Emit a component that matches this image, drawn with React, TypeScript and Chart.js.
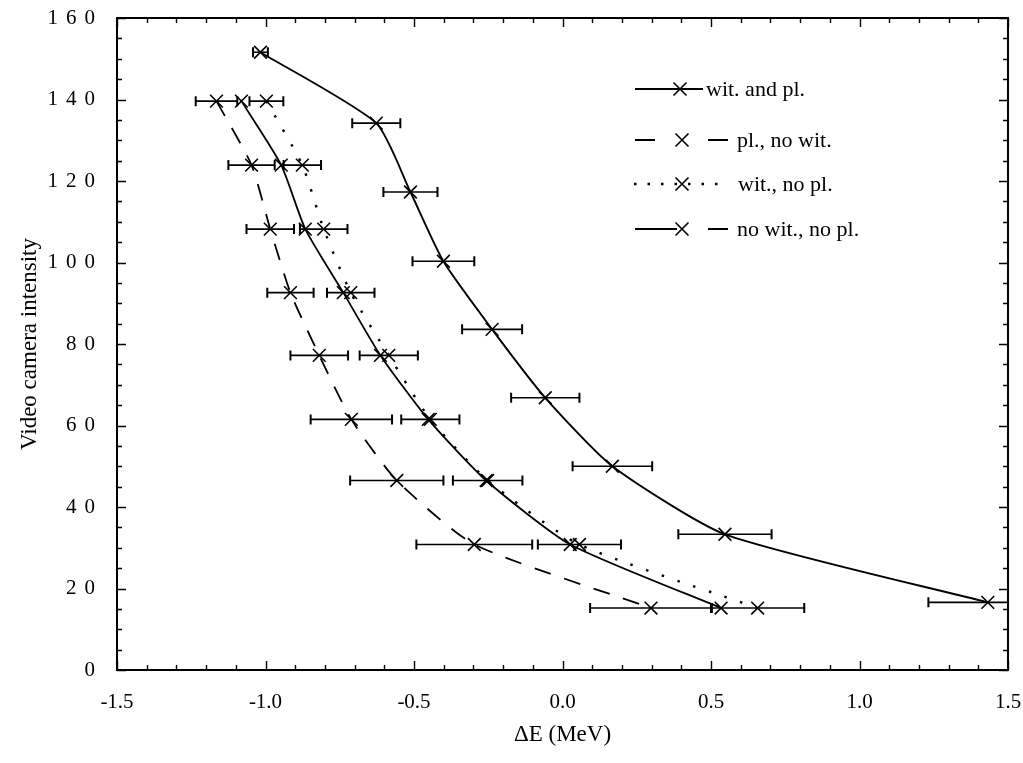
import React, { useEffect, useRef } from 'react';
import { Chart, registerables } from 'chart.js';

Chart.register(...registerables);

// ---- data ----
const seriesLabels = ['wit. and pl.', 'pl., no wit.', 'wit., no pl.', 'no wit., no pl.'];

const intensityA = [151.6, 134.2, 117.3, 100.3, 83.6, 66.8, 50.0, 33.3, 16.6];
const deltaEA = [-1.017, -0.627, -0.512, -0.401, -0.237, -0.058, 0.168, 0.547, 1.432];
const errA = [0.025, 0.081, 0.091, 0.104, 0.101, 0.115, 0.134, 0.157, 0.2];

const intensityBCD = [139.6, 123.9, 108.2, 92.6, 77.2, 61.5, 46.5, 30.8, 15.2];
const deltaEB = [-1.165, -1.047, -0.984, -0.916, -0.819, -0.711, -0.558, -0.297, 0.298];
const errB = [0.07, 0.078, 0.08, 0.078, 0.097, 0.137, 0.157, 0.195, 0.205];
const deltaEC = [-0.997, -0.876, -0.804, -0.713, -0.585, -0.445, -0.252, 0.057, 0.657];
const errC = [0.057, 0.063, 0.08, 0.08, 0.098, 0.098, 0.117, 0.14, 0.157];
const deltaED = [-1.081, -0.947, -0.866, -0.738, -0.613, -0.452, -0.257, 0.026, 0.534];

const xTickLabels = ['-1.5', '-1.0', '-0.5', '0.0', '0.5', '1.0', '1.5'];
const yTickLabels = ['0', '20', '40', '60', '80', '100', '120', '140', '160'];

const X_MIN = -1.5, X_MAX = 1.5, Y_MIN = 0, Y_MAX = 160;

const FONT = '"Liberation Serif", "Times New Roman", serif';

const toPoints = (xs: number[], ys: number[]) => xs.map((x, i) => ({ x, y: ys[i] }));

// ---- plugins ----
const frameTicks = {
  id: 'frameTicks',
  afterDraw(chart: any) {
    const { ctx, chartArea: a, scales } = chart;
    const x = scales.x, y = scales.y;
    ctx.save();
    ctx.strokeStyle = '#000';
    ctx.lineWidth = 1.4;
    ctx.beginPath();
    for (let i = 0; i <= 30; i++) {
      const v = X_MIN + i * 0.1;
      const px = Math.round(x.getPixelForValue(v)) + 0.5;
      const len = i % 5 === 0 ? 9 : 5;
      ctx.moveTo(px, a.bottom); ctx.lineTo(px, a.bottom - len);
      ctx.moveTo(px, a.top); ctx.lineTo(px, a.top + len);
    }
    for (let i = 0; i <= 32; i++) {
      const v = Y_MIN + i * 5;
      const py = Math.round(y.getPixelForValue(v)) + 0.5;
      const len = i % 4 === 0 ? 9 : 5;
      ctx.moveTo(a.left, py); ctx.lineTo(a.left + len, py);
      ctx.moveTo(a.right, py); ctx.lineTo(a.right - len, py);
    }
    ctx.stroke();
    ctx.lineWidth = 2;
    ctx.strokeRect(a.left, a.top, a.right - a.left, a.bottom - a.top);
    ctx.restore();
  },
};

const errorBars = {
  id: 'errorBars',
  afterDatasetsDraw(chart: any) {
    const { ctx, chartArea: a, scales } = chart;
    const x = scales.x, y = scales.y;
    ctx.save();
    ctx.beginPath();
    ctx.rect(a.left, a.top, a.right - a.left, a.bottom - a.top);
    ctx.clip();
    ctx.strokeStyle = '#000';
    chart.data.datasets.forEach((ds: any) => {
      if (!ds.xErr) return;
      ds.data.forEach((p: any, i: number) => {
        const e = ds.xErr[i];
        const x1 = x.getPixelForValue(p.x - e);
        const x2 = x.getPixelForValue(p.x + e);
        const py = y.getPixelForValue(p.y);
        ctx.lineWidth = 1.6;
        ctx.beginPath();
        ctx.moveTo(x1, py); ctx.lineTo(x2, py);
        ctx.stroke();
        ctx.lineWidth = 2;
        ctx.beginPath();
        ctx.moveTo(x1, py - 5); ctx.lineTo(x1, py + 5);
        ctx.moveTo(x2, py - 5); ctx.lineTo(x2, py + 5);
        ctx.stroke();
      });
    });
    ctx.restore();
  },
};

const legendRows = [
  { y: 89, segs: [[635, 703]], dash: [] as number[], cross: 680, text: 706, w: 1.8 },
  { y: 140, segs: [[635, 655], [708, 728]], dash: [] as number[], cross: 682, text: 737, w: 1.8 },
  { y: 184, segs: [[634, 728]], dash: [2.5, 11], cross: 682, text: 738, w: 2.4 },
  { y: 229, segs: [[635, 677], [708, 728]], dash: [] as number[], cross: 682, text: 737, w: 1.8 },
];

const insideLegend = {
  id: 'insideLegend',
  afterDraw(chart: any) {
    const { ctx } = chart;
    ctx.save();
    ctx.strokeStyle = '#000';
    ctx.fillStyle = '#000';
    ctx.font = `22px ${FONT}`;
    ctx.textBaseline = 'middle';
    ctx.textAlign = 'left';
    chart.data.datasets.forEach((ds: any, i: number) => {
      const r = legendRows[i];
      if (!r) return;
      ctx.lineWidth = r.w;
      ctx.setLineDash(r.dash);
      ctx.beginPath();
      r.segs.forEach(([s, e]) => { ctx.moveTo(s, r.y); ctx.lineTo(e, r.y); });
      ctx.stroke();
      ctx.setLineDash([]);
      ctx.lineWidth = 1.6;
      ctx.beginPath();
      ctx.moveTo(r.cross - 6.5, r.y - 6.5); ctx.lineTo(r.cross + 6.5, r.y + 6.5);
      ctx.moveTo(r.cross + 6.5, r.y - 6.5); ctx.lineTo(r.cross - 6.5, r.y + 6.5);
      ctx.stroke();
      ctx.fillText(ds.label, r.text, r.y + 1);
    });
    ctx.restore();
  },
};

const spacedYLabels = {
  id: 'spacedYLabels',
  beforeDraw(chart: any) {
    const s: any = chart.scales.y;
    if (!s || s.__spaced) return;
    const orig = s.drawLabels.bind(s);
    s.drawLabels = (area: any) => {
      const c: any = chart.ctx;
      c.save();
      c.letterSpacing = '8px';
      orig(area);
      c.restore();
    };
    s.__spaced = true;
  },
};

export default function App() {
  const ref = useRef<HTMLCanvasElement>(null);

  useEffect(() => {
    if (!ref.current) return;
    const common = {
      showLine: true,
      borderColor: '#000',
      backgroundColor: '#000',
      pointStyle: 'crossRot',
      pointRadius: 9,
      pointBorderWidth: 1.6,
      pointBorderColor: '#000',
      tension: 0.2,
      fill: false,
    };
    const chart = new Chart(ref.current, {
      type: 'scatter',
      data: {
        datasets: [
          { ...common, label: seriesLabels[0], data: toPoints(deltaEA, intensityA), xErr: errA, borderWidth: 1.9 } as any,
          { ...common, label: seriesLabels[1], data: toPoints(deltaEB, intensityBCD), xErr: errB, borderWidth: 1.8, borderDash: [17, 14] } as any,
          { ...common, label: seriesLabels[2], data: toPoints(deltaEC, intensityBCD), xErr: errC, borderWidth: 2.4, borderDash: [2.5, 14] } as any,
          { ...common, label: seriesLabels[3], data: toPoints(deltaED, intensityBCD), borderWidth: 1.8 } as any,
        ],
      },
      options: {
        animation: false,
        responsive: true,
        maintainAspectRatio: false,
        layout: { padding: { top: 18, right: 15, left: 0, bottom: 0 } },
        plugins: { legend: { display: false }, tooltip: { enabled: false } },
        scales: {
          x: {
            type: 'linear',
            min: X_MIN,
            max: X_MAX,
            grid: { display: false },
            border: { display: false },
            ticks: {
              stepSize: 0.5,
              color: '#000',
              font: { family: FONT, size: 21 },
              padding: 12,
              maxRotation: 0,
              autoSkip: false,
              callback: (_v: any, i: number) => xTickLabels[i],
            },
            title: {
              display: true,
              text: 'ΔE (MeV)',
              color: '#000',
              font: { family: FONT, size: 23 },
              padding: { top: 0, bottom: 14 },
            },
            afterFit: (s: any) => { s.height = 93; s.paddingLeft = 0; s.paddingRight = 0; },
          },
          y: {
            type: 'linear',
            min: Y_MIN,
            max: Y_MAX,
            grid: { display: false },
            border: { display: false },
            ticks: {
              stepSize: 20,
              color: '#000',
              font: { family: FONT, size: 21 },
              padding: 6,
              autoSkip: false,
              callback: (_v: any, i: number) => yTickLabels[i],
            },
            title: {
              display: true,
              text: 'Video camera intensity',
              color: '#000',
              font: { family: FONT, size: 23 },
              padding: { top: 16, bottom: 0 },
            },
            afterFit: (s: any) => { s.width = 117; s.paddingTop = 0; s.paddingBottom = 0; },
          },
        },
      },
      plugins: [spacedYLabels, errorBars, frameTicks, insideLegend],
    });
    return () => chart.destroy();
  }, []);

  return (
    <div style={{ position: 'fixed', left: 0, top: 0, width: 1023, height: 763, background: '#fff' }}>
      <canvas ref={ref} />
    </div>
  );
}
